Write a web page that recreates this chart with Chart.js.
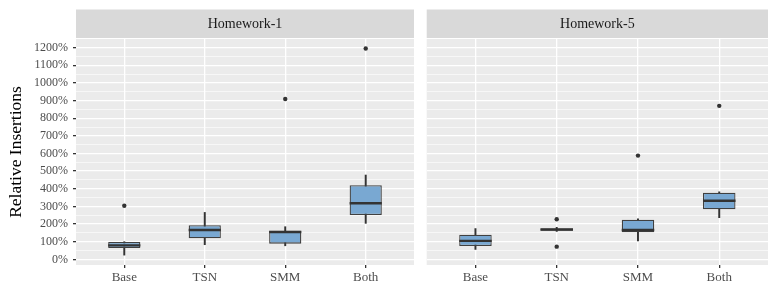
<!DOCTYPE html>
<html>
<head>
<meta charset="utf-8">
<script src="https://cdn.jsdelivr.net/npm/chart.js@4"></script>
<style>
  body { margin: 0; background: #fff; }
  #wrap { position: relative; width: 778px; height: 285px; }
  #c1 { position: absolute; left: 0; top: 0; }
  #c2 { position: absolute; left: 418px; top: 0; }
</style>
</head>
<body>
<div id="wrap">
  <canvas id="c1" width="418" height="285"></canvas>
  <canvas id="c2" width="360" height="285"></canvas>
</div>
<script>
// data (percent)

const categories = ["Base", "TSN", "SMM", "Both"];
const panels = ["Homework-1", "Homework-5"];

const hw1Low = [24, 83, 77, 204];
const hw1Q1 = [64, 119, 89, 251];
const hw1Median = [79, 166, 155, 318];
const hw1Q3 = [98, 193, 162, 420];
const hw1High = [100, 266, 185, 478];
const hw1Outliers = [[1, 304], [3, 909], [4, 1195]];

const hw5Low = [57, 158, 104, 236];
const hw5Q1 = [75, 162, 153, 284];
const hw5Median = [105, 169, 166, 332];
const hw5Q3 = [140, 175, 225, 378];
const hw5High = [174, 182, 230, 383];
const hw5Outliers = [[2, 227], [2, 72], [3, 588], [4, 870]];

const yTicks = [0, 100, 200, 300, 400, 500, 600, 700, 800, 900, 1000, 1100, 1200];
const yMinor = [50, 150, 250, 350, 450, 550, 650, 750, 850, 950, 1050, 1150];

const serif = "'Liberation Serif', 'DejaVu Serif', serif";

// panel background + facet strip
const panelBg = {
    id: "panelBg",
    beforeDraw(chart, args, opts) {
        const { ctx, chartArea: a } = chart;
        ctx.save();
        ctx.fillStyle = "#EBEBEB";
        ctx.fillRect(a.left, a.top, a.right - a.left, a.bottom - a.top);
        ctx.fillStyle = "#D9D9D9";
        ctx.fillRect(a.left, 9.5, a.right - a.left, 28.5);
        ctx.fillStyle = "#1A1A1A";
        ctx.font = "14px " + serif;
        ctx.textAlign = "center";
        ctx.textBaseline = "middle";
        ctx.fillText(opts.title, (a.left + a.right) / 2, 24);
        ctx.restore();
    }
};

// median line across each box
const medianLine = {
    id: "medianLine",
    afterDatasetsDraw(chart, args, opts) {
        const ctx = chart.ctx;
        const y = chart.scales.y;
        const meta = chart.getDatasetMeta(0);
        ctx.save();
        ctx.strokeStyle = "#333333";
        ctx.lineWidth = 2.4;
        meta.data.forEach((bar, i) => {
            const py = y.getPixelForValue(opts.values[i]);
            ctx.beginPath();
            ctx.moveTo(bar.x - bar.width / 2, py);
            ctx.lineTo(bar.x + bar.width / 2, py);
            ctx.stroke();
        });
        ctx.restore();
    }
};

function makeChart(canvas, title, low, q1, med, q3, high, outliers, showY) {
    return new Chart(canvas, {
        type: "bar",
        data: {
            datasets: [
                {
                    data: categories.map((c, i) => ({ x: i + 1, y: [q1[i], q3[i]] })),
                    backgroundColor: "#79A8D2",
                    borderColor: "#404040",
                    borderWidth: 1.3,
                    borderSkipped: false,
                    grouped: false,
                    barPercentage: 0.4,
                    categoryPercentage: 1,
                    order: 1,
                },
                {
                    data: categories.map((c, i) => ({ x: i + 1, y: [low[i], high[i]] })),
                    backgroundColor: "#333333",
                    borderWidth: 0,
                    grouped: false,
                    barThickness: 1.3,
                    order: 2,
                },
                {
                    type: "scatter",
                    data: outliers.map(o => ({ x: o[0], y: o[1] })),
                    backgroundColor: "#333333",
                    borderWidth: 0,
                    pointRadius: 2.2,
                    order: 0,
                },
            ],
        },
        options: {
            responsive: false,
            animation: false,
            devicePixelRatio: 1,
            layout: {
                padding: { top: 39, bottom: 0, left: showY ? 0 : 8.7, right: showY ? 1 : 10 }
            },
            plugins: {
                legend: { display: false },
                tooltip: { enabled: false },
                panelBg: { title: title },
                medianLine: { values: med },
            },
            scales: {
                x: {
                    type: "linear",
                    offset: false,
                    min: 0.4,
                    max: 4.6,
                    afterBuildTicks: s => { s.ticks = categories.map((c, i) => ({ value: i + 1 })); },
                    afterFit: s => { s.height = 20; },
                    border: { display: false },
                    grid: {
                        color: "#FFFFFF",
                        lineWidth: 1.3,
                        offset: false,
                        tickColor: "#333333",
                        tickLength: 3,
                    },
                    ticks: {
                        autoSkip: false,
                        maxRotation: 0,
                        padding: 2,
                        color: "#4D4D4D",
                        font: { family: serif, size: 13 },
                        callback: v => categories[v - 1],
                    },
                },
                y: {
                    min: -32,
                    max: 1249,
                    afterBuildTicks: s => {
                        s.ticks = yTicks.concat(yMinor).sort((a, b) => a - b).map(v => ({ value: v }));
                    },
                    afterFit: s => { s.width = showY ? 76 : 0; },
                    border: { display: false },
                    title: {
                        display: showY,
                        text: "Relative Insertions",
                        color: "#000000",
                        font: { family: serif, size: 17.5 },
                        padding: { top: 6, bottom: 0 },
                    },
                    grid: {
                        color: "#FFFFFF",
                        lineWidth: c => (c.tick && yTicks.includes(c.tick.value)) ? 1.3 : 0.6,
                        drawTicks: showY,
                        tickColor: c => (c.tick && yTicks.includes(c.tick.value)) ? "#333333" : "rgba(0,0,0,0)",
                        tickLength: 3,
                    },
                    ticks: {
                        display: showY,
                        autoSkip: false,
                        padding: 5,
                        color: "#4D4D4D",
                        font: { family: serif, size: 12 },
                        callback: v => yTicks.includes(v) ? v + "%" : "",
                    },
                },
            },
        },
        plugins: [panelBg, medianLine],
    });
}

makeChart(document.getElementById("c1"), panels[0], hw1Low, hw1Q1, hw1Median, hw1Q3, hw1High, hw1Outliers, true);
makeChart(document.getElementById("c2"), panels[1], hw5Low, hw5Q1, hw5Median, hw5Q3, hw5High, hw5Outliers, false);
</script>
</body>
</html>
